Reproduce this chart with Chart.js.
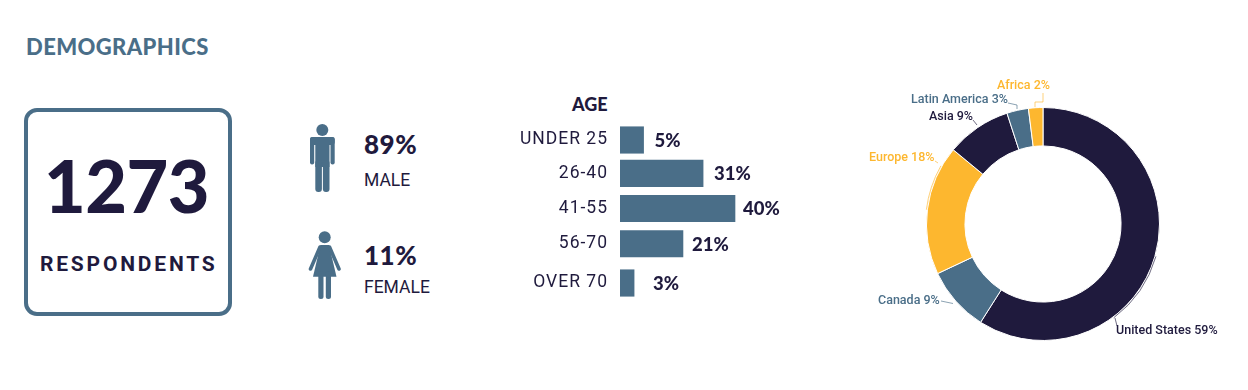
<!DOCTYPE html>
<html>
<head>
<meta charset="utf-8">
<title>Demographics</title>
<script src="https://cdn.jsdelivr.net/npm/chart.js@4"></script>
<style>
  html, body { margin: 0; padding: 0; background: #fff; }
  body { position: relative; width: 1248px; height: 390px; overflow: hidden; color: #1f1a3d; font-family: Roboto, sans-serif; }
  .t { position: absolute; white-space: nowrap; line-height: 1; }
  .heavy { font-family: Lato, sans-serif; font-weight: 900; }
  canvas { position: absolute; }
  svg { position: absolute; }
  #box { position: absolute; left: 24px; top: 108px; width: 200px; height: 200px; border: 4px solid #4a6e88; border-radius: 13px; }
</style>
</head>
<body>
<div class="t heavy" style="left:26px;top:36px;font-size:22px;color:#4a6e88;letter-spacing:.4px">DEMOGRAPHICS</div>

<div id="box"></div>
<div class="t heavy" style="left:44px;top:149px;font-size:72px;letter-spacing:-.5px">1273</div>
<div class="t" style="left:40px;top:254px;font-size:21px;font-weight:700;letter-spacing:2.8px">RESPONDENTS</div>

<svg style="left:305px;top:120px" width="40" height="76" viewBox="0 0 40 76" fill="#4a6e88">
  <circle cx="17.3" cy="10" r="6"/>
  <rect x="5" y="17" width="24.7" height="8" rx="3"/>
  <rect x="5" y="17" width="4.2" height="27.5" rx="2"/>
  <rect x="25.5" y="17" width="4.2" height="27.5" rx="2"/>
  <rect x="10.3" y="17" width="14.2" height="30"/>
  <rect x="10.3" y="40" width="6.6" height="32" rx="3"/>
  <rect x="17.9" y="40" width="6.6" height="32" rx="3"/>
</svg>
<svg style="left:305px;top:226px" width="40" height="76" viewBox="0 0 40 76" fill="#4a6e88">
  <circle cx="19.7" cy="11.3" r="6"/>
  <path d="M15.5 19H24L31.5 50.7H8Z"/>
  <path d="M15 21L5.5 43M24.5 21L34 43" stroke="#4a6e88" stroke-width="3.6" stroke-linecap="round"/>
  <rect x="13.3" y="45" width="5.2" height="28" rx="2.5"/>
  <rect x="20.8" y="45" width="5.2" height="28" rx="2.5"/>
</svg>

<div class="t heavy" style="left:364px;top:131px;font-size:26px;letter-spacing:.5px">89%</div>
<div class="t" style="left:364px;top:172px;font-size:17.5px">MALE</div>
<div class="t heavy" style="left:364px;top:242px;font-size:26px;letter-spacing:.5px">11%</div>
<div class="t" style="left:364px;top:279px;font-size:17.5px">FEMALE</div>

<div class="t heavy" style="left:572px;top:95px;font-size:18px">AGE</div>

<canvas id="ageChart" width="304" height="200" style="left:500px;top:110px"></canvas>
<canvas id="regionChart" width="380" height="310" style="left:860px;top:60px"></canvas>

<script>
const ageCategories = ['UNDER 25', '26-40', '41-55', '56-70', 'OVER 70'];
const agePrinted = ['5%', '31%', '40%', '21%', '3%'];
// bar lengths as measured in the picture, they don't scale exactly with the printed numbers
const ageBarLengths = [8.2, 28.9, 40, 21.9, 4.9];

const regions = ['United States', 'Canada', 'Europe', 'Asia', 'Latin America', 'Africa'];
const regionShares = [59, 9, 18, 9, 3, 2];

const navy = '#1f1a3d';
const slate = '#4a6e88';
const amber = '#fdb72f';

// row spacing isn't quite even in the reference
const ageRows = [0, 0.932, 1.916, 2.903, 4];
const ageLabelGaps = [11, 11, 8, 9, 19];

const ageLabels = {
  id: 'ageLabels',
  beforeDraw(chart) {
    chart.ctx.letterSpacing = '1px';
  },
  afterDatasetsDraw(chart) {
    const ctx = chart.ctx;
    ctx.save();
    ctx.letterSpacing = '0px';
    ctx.font = '900 18.5px Lato, sans-serif';
    ctx.fillStyle = navy;
    ctx.textBaseline = 'middle';
    chart.getDatasetMeta(0).data.forEach((bar, i) => {
      ctx.fillText(agePrinted[i], bar.x + ageLabelGaps[i], bar.y + 1);
    });
    ctx.restore();
  }
};

new Chart(document.getElementById('ageChart'), {
  type: 'bar',
  data: {
    datasets: [{
      data: ageBarLengths.map((v, i) => ({ x: v, y: ageRows[i] })),
      backgroundColor: slate,
      barThickness: 26.5
    }]
  },
  options: {
    indexAxis: 'y',
    responsive: false,
    animation: false,
    layout: { padding: 0, autoPadding: false },
    plugins: { legend: { display: false }, tooltip: { enabled: false } },
    scales: {
      x: { type: 'linear', display: false, min: 0, max: 64 },
      y: {
        type: 'linear',
        reverse: true,
        offset: false,
        bounds: 'data',
        min: -0.839,
        max: 4.755,
        grid: { display: false, drawTicks: false },
        border: { display: false },
        // the axis reserves room for its end labels, which would squeeze the rows together
        afterFit(scale) {
          scale.width = 120;
          scale.paddingTop = 0;
          scale.paddingBottom = 0;
        },
        afterBuildTicks(scale) { scale.ticks = ageRows.map(v => ({ value: v })); },
        ticks: {
          autoSkip: false,
          padding: 12,
          color: navy,
          font: { family: 'Roboto', size: 17.5 },
          callback: v => ageCategories[ageRows.indexOf(v)]
        }
      }
    }
  },
  plugins: [ageLabels]
});

// where each region's caption and leader sit, same order as regions
const regionCaptions = [
  { color: navy, x: 1116, y: 331, arc: [106, 143], line: [[1115, 318], [1117, 326]] },
  { color: slate, x: 878, y: 301, line: [[941, 301], [953, 303.5]] },
  { color: amber, x: 869, y: 158, arc: [277, 299.7], line: [[938, 163], [935, 161]] },
  { color: navy, x: 929, y: 117, line: [[973, 120], [977, 125]] },
  { color: slate, x: 911, y: 100, line: [[1008, 103], [1017, 105], [1017, 109]] },
  { color: amber, x: 997, y: 86, line: [[1043, 93], [1043, 102], [1035, 102], [1035, 107]] }
];

const regionLabels = {
  id: 'regionLabels',
  afterDatasetsDraw(chart) {
    const ctx = chart.ctx;
    const box = chart.canvas.getBoundingClientRect();
    const ring = chart.getDatasetMeta(0).data[0];
    ctx.save();
    ctx.lineWidth = 0.8;
    regionCaptions.forEach((c, i) => {
      ctx.strokeStyle = c.color;
      ctx.globalAlpha = 0.8;
      if (c.arc) {
        const r = ring.outerRadius + 1;
        ctx.beginPath();
        ctx.arc(ring.x, ring.y, r, (c.arc[0] - 90) * Math.PI / 180, (c.arc[1] - 90) * Math.PI / 180);
        ctx.stroke();
      }
      ctx.beginPath();
      c.line.forEach((p, k) => k ? ctx.lineTo(p[0] - box.left, p[1] - box.top) : ctx.moveTo(p[0] - box.left, p[1] - box.top));
      ctx.stroke();
      ctx.globalAlpha = 1;
      ctx.font = '500 12.5px Roboto, sans-serif';
      ctx.fillStyle = c.color;
      ctx.textBaseline = 'middle';
      ctx.fillText(regions[i] + ' ' + regionShares[i] + '%', c.x - box.left, c.y - box.top);
    });
    ctx.restore();
  }
};

new Chart(document.getElementById('regionChart'), {
  type: 'doughnut',
  data: {
    labels: regions,
    datasets: [{
      data: regionShares,
      backgroundColor: [navy, slate, amber, navy, slate, amber],
      borderColor: '#ffffff',
      borderWidth: 1
    }]
  },
  options: {
    responsive: false,
    animation: false,
    cutout: '67%',
    layout: { padding: { left: 66, right: 80, top: 47, bottom: 29 } },
    plugins: { legend: { display: false }, tooltip: { enabled: false } }
  },
  plugins: [regionLabels]
});
</script>
</body>
</html>
